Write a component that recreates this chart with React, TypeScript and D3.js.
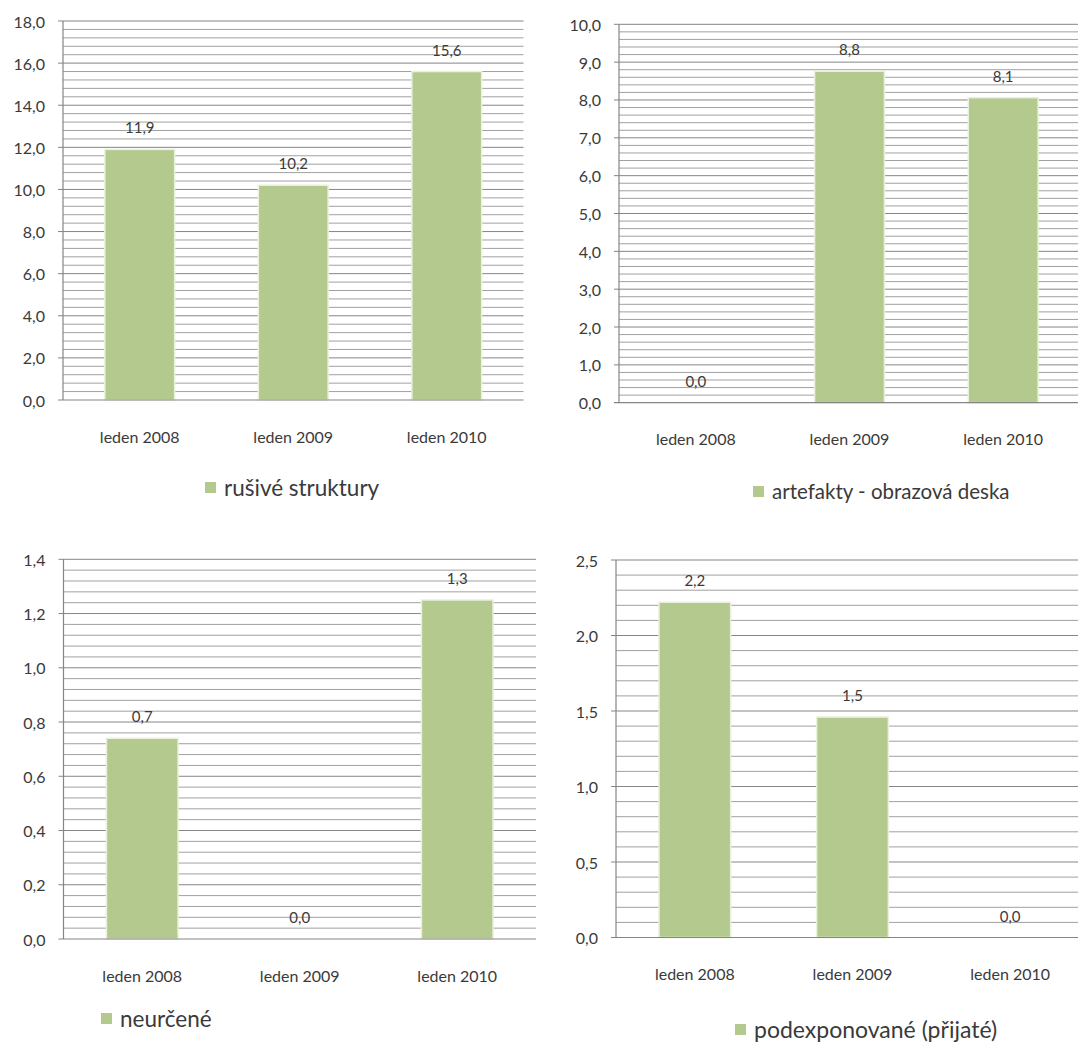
import React from "react";
import * as d3 from "d3";

const categories = ["leden 2008", "leden 2009", "leden 2010"];

const rusiveValues = [11.9, 10.2, 15.6];
const artefaktyValues = [0, 8.76, 8.06];
const neurceneValues = [0.74, 0, 1.25];
const podexponovaneValues = [2.22, 1.46, 0];

const seriesNames = [
  "rušivé struktury",
  "artefakty - obrazová deska",
  "neurčené",
  "podexponované (přijaté)",
];
const yMaxima = [18, 10, 1.4, 2.5];
const majorSteps = [2, 1, 0.2, 0.5];
const tickDecimals = [1, 1, 1, 1];

const layouts = [
  { x0: 63, x1: 523.5, yTop: 21, yBot: 400, legX: 205, legY: 487, legSize: 22.5 },
  { x0: 619, x1: 1080, yTop: 24.3, yBot: 402.7, legX: 753, legY: 491, legSize: 20.5 },
  { x0: 63.5, x1: 536, yTop: 559.3, yBot: 939, legX: 101, legY: 1018, legSize: 22.5 },
  { x0: 616, x1: 1089, yTop: 560, yBot: 937.5, legX: 735, legY: 1029, legSize: 23 },
];

const BAR_FILL = "#b3c98e";
const BAR_EDGE = "#e9f0de";
const GRID_MAJOR = "#858585";
const GRID_MINOR = "#a0a0a0";
const TEXT = "#3a3a3a";
const FONT = "Lato, 'Open Sans', sans-serif";

const fmt = (v: number, d: number) => v.toFixed(d).replace(".", ",");

function Panel({ values, name, yMax, step, dec, L }: any) {
  const x = d3.scaleBand<string>().domain(categories).range([L.x0, L.x1]).padding(0);
  const y = d3.scaleLinear().domain([0, yMax]).range([L.yBot, L.yTop]);
  const nMajor = Math.round(yMax / step);
  const majors = d3.range(nMajor + 1).map((i) => i * step);
  const minors = d3.range(nMajor * 5 + 1).map((i) => (i * step) / 5).filter((_, i) => i % 5 !== 0);
  const bw = x.step() / 2.2;
  return (
    <g>
      {minors.map((v, i) => (
        <line key={"mi" + i} x1={L.x0} x2={L.x1} y1={y(v)} y2={y(v)} stroke={GRID_MINOR} strokeWidth={1} />
      ))}
      {majors.slice(1).map((v, i) => (
        <line key={"ma" + i} x1={L.x0 - 5} x2={L.x1} y1={y(v)} y2={y(v)} stroke={GRID_MAJOR} strokeWidth={1} />
      ))}
      {majors.map((v, i) => (
        <text key={"yl" + i} x={L.x0 - 18} y={y(v)} textAnchor="end" dominantBaseline="central"
          fontFamily={FONT} fontSize={16} fill={TEXT}>{fmt(v, dec)}</text>
      ))}
      {values.map((v: number, i: number) => {
        const cx = (x(categories[i]) as number) + x.step() / 2;
        return (
          <g key={"b" + i}>
            {v > 0 && (
              <rect x={cx - bw / 2} y={y(v)} width={bw} height={y(0) - y(v)}
                fill={BAR_FILL} stroke={BAR_EDGE} strokeWidth={1.5} />
            )}
            <text x={cx} y={y(v) - 22} textAnchor="middle" dominantBaseline="central"
              fontFamily={FONT} fontSize={15} fill={TEXT}>{fmt(v, 1)}</text>
            <text x={cx} y={L.yBot + 36} textAnchor="middle" dominantBaseline="central"
              fontFamily={FONT} fontSize={16} fill={TEXT}>{categories[i]}</text>
          </g>
        );
      })}
      <line x1={L.x0} x2={L.x0} y1={L.yTop} y2={L.yBot} stroke={GRID_MAJOR} strokeWidth={1.2} />
      <line x1={L.x0 - 5} x2={L.x1} y1={L.yBot} y2={L.yBot} stroke={GRID_MAJOR} strokeWidth={1.2} />
      <rect x={L.legX} y={L.legY - 5} width={11} height={11} fill={BAR_FILL} />
      <text x={L.legX + 19} y={L.legY} dominantBaseline="central" fontFamily={FONT} fontSize={L.legSize} fill={TEXT}>
        {name}
      </text>
    </g>
  );
}

export default function App() {
  const allValues = [rusiveValues, artefaktyValues, neurceneValues, podexponovaneValues];
  return (
    <svg width={1078} height={1044} style={{ position: "absolute", left: 0, top: 0, background: "#fff" }}>
      <rect width={1078} height={1044} fill="#fff" />
      {allValues.map((vals, i) => (
        <Panel key={i} values={vals} name={seriesNames[i]} yMax={yMaxima[i]} step={majorSteps[i]}
          dec={tickDecimals[i]} L={layouts[i]} />
      ))}
    </svg>
  );
}
